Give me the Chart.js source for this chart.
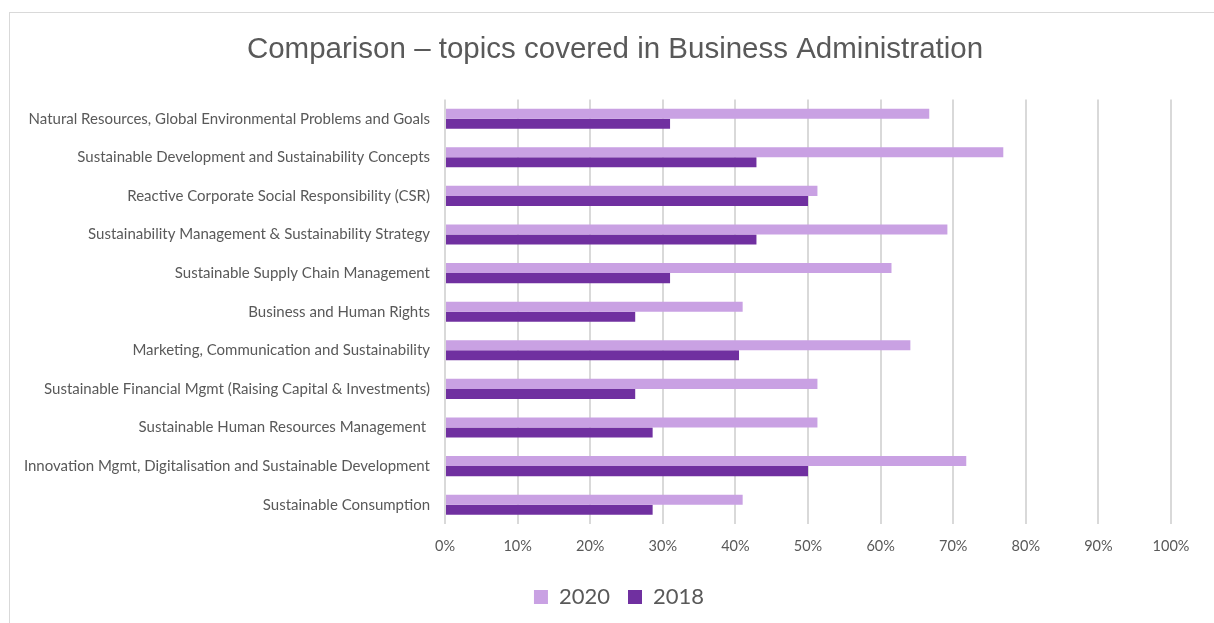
<!DOCTYPE html>
<html>
<head>
<meta charset="utf-8">
<title>Comparison – topics covered in Business Administration</title>
<script src="https://cdn.jsdelivr.net/npm/chart.js@4"></script>
<style>
  html, body { margin: 0; padding: 0; background: #fff; }
  #wrap { position: relative; width: 1214px; height: 623px; overflow: hidden; }
  #frame {
    position: absolute; left: 9px; top: 12px; width: 1300px; height: 700px;
    border-top: 1px solid #d9d9d9; border-left: 1px solid #d9d9d9;
  }
  #grafico { position: absolute; left: 0; top: 0; }
</style>
</head>
<body>
<div id="wrap">
  <div id="frame"></div>
  <canvas id="grafico" width="1214" height="623"></canvas>
</div>
<script>
// topics, top to bottom
const topicos = [
  "Natural Resources, Global Environmental Problems and Goals",
  "Sustainable Development and Sustainability Concepts",
  "Reactive Corporate Social Responsibility (CSR)",
  "Sustainability Management & Sustainability Strategy",
  "Sustainable Supply Chain Management",
  "Business and Human Rights",
  "Marketing, Communication and Sustainability",
  "Sustainable Financial Mgmt (Raising Capital & Investments)",
  "Sustainable Human Resources Management ",
  "Innovation Mgmt, Digitalisation and Sustainable Development",
  "Sustainable Consumption"
];

// share of programmes covering each topic, in percent
const valores2020 = [66.7, 76.9, 51.3, 69.2, 61.5, 41.0, 64.1, 51.3, 51.3, 71.8, 41.0];
const valores2018 = [31.0, 42.9, 50.0, 42.9, 31.0, 26.2, 40.5, 26.2, 28.6, 50.0, 28.6];

const ticksX = [0, 10, 20, 30, 40, 50, 60, 70, 80, 90, 100];

const cinza = "#595959";
const fonteTexto = "Lato, 'Open Sans', sans-serif";

// title and legend span the whole canvas (slightly right of centre),
// not just the padded area
const centrarNoCanvas = {
  id: "centrarNoCanvas",
  afterLayout(chart) {
    [[chart.titleBlock, 8], [chart.legend, 12]].forEach(([caixa, desvio]) => {
      if (!caixa) return;
      caixa.left = desvio;
      caixa.right = chart.width + desvio;
      caixa.width = chart.width;
    });
  }
};

const ctx = document.getElementById("grafico").getContext("2d");
new Chart(ctx, {
  type: "bar",
  data: {
    labels: topicos,
    datasets: [
      {
        label: "2020",
        data: valores2020,
        backgroundColor: "#c9a1e3",
        borderWidth: 0,
        barPercentage: 1,
        categoryPercentage: 0.52
      },
      {
        label: "2018",
        data: valores2018,
        backgroundColor: "#7030a0",
        borderWidth: 0,
        barPercentage: 1,
        categoryPercentage: 0.52
      }
    ]
  },
  options: {
    indexAxis: "y",
    responsive: false,
    animation: false,
    layout: { padding: { left: 10, right: 43, top: 0, bottom: 5 } },
    scales: {
      x: {
        min: 0,
        max: 100,
        afterBuildTicks: (escala) => {
          escala.ticks = ticksX.map(v => ({ value: v }));
        },
        afterFit: (escala) => { escala.height = 44; },
        grid: { color: "#d9d9d9", lineWidth: 2, drawTicks: false },
        border: { display: false },
        ticks: {
          padding: 14,
          color: cinza,
          font: { family: fonteTexto, size: 14.5 },
          callback: (v) => v + "%"
        }
      },
      y: {
        afterFit: (escala) => { escala.width = 435; },
        grid: { display: false, drawTicks: false },
        border: { display: false },
        ticks: {
          padding: 15,
          color: cinza,
          font: { family: fonteTexto, size: 15 }
        }
      }
    },
    plugins: {
      title: {
        display: true,
        text: "Comparison – topics covered in Business Administration",
        color: cinza,
        font: { family: "'Liberation Sans', Arial, sans-serif", size: 29.5, weight: "normal" },
        padding: { top: 32, bottom: 32 }
      },
      legend: {
        position: "bottom",
        labels: {
          boxWidth: 14,
          boxHeight: 14,
          padding: 18,
          color: cinza,
          font: { family: fonteTexto, size: 22 }
        }
      },
      tooltip: { enabled: false }
    }
  },
  plugins: [centrarNoCanvas]
});
</script>
</body>
</html>
